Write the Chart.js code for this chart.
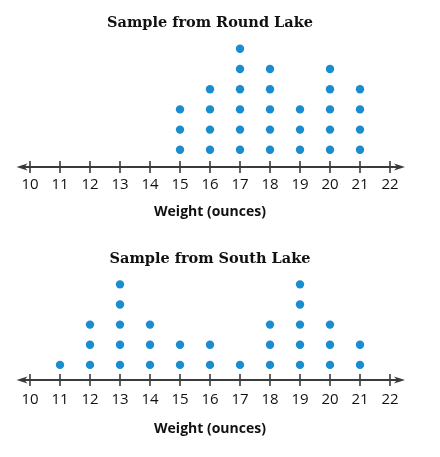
<!DOCTYPE html>
<html>
<head>
<meta charset="utf-8">
<script src="https://cdn.jsdelivr.net/npm/chart.js@4.4.0/dist/chart.umd.min.js"></script>
<style>
  html, body { margin: 0; padding: 0; background: #fff; }
  .box { position: relative; width: 440px; }
  #b1 { height: 230px; }
  #b2 { height: 227px; }
</style>
</head>
<body>
<div class="box" id="b1"><canvas id="c1"></canvas></div>
<div class="box" id="b2"><canvas id="c2"></canvas></div>
<script>
// ---- data ----
const tickValues = [10, 11, 12, 13, 14, 15, 16, 17, 18, 19, 20, 21, 22];
const roundTitle = "Sample from Round Lake";
const roundWeights = [15, 16, 17, 18, 19, 20, 21];
const roundCounts  = [3, 4, 6, 5, 3, 5, 4];
const southTitle = "Sample from South Lake";
const southWeights = [11, 12, 13, 14, 15, 16, 17, 18, 19, 20, 21];
const southCounts  = [1, 3, 5, 3, 2, 2, 1, 3, 5, 3, 2];
const axisTitle = "Weight (ounces)";

function buildPoints(weights, counts) {
  const pts = [];
  weights.forEach((w, i) => {
    for (let k = 1; k <= counts[i]; k++) pts.push({ x: w, y: k });
  });
  return pts;
}

// number line with arrows and crossing ticks
const numberLine = {
  id: 'numberLine',
  afterDatasetsDraw(chart) {
    const xs = chart.scales.x;
    const ctx = chart.ctx;
    const y = chart.chartArea.bottom;
    const xl = xs.getPixelForValue(9.55);
    const xr = xs.getPixelForValue(22.5);
    ctx.save();
    ctx.strokeStyle = '#3a3a3a';
    ctx.fillStyle = '#3a3a3a';
    ctx.lineWidth = 2;
    ctx.beginPath();
    ctx.moveTo(xl + 4, y);
    ctx.lineTo(xr - 4, y);
    ctx.stroke();
    // arrows
    ctx.beginPath();
    ctx.moveTo(xl, y); ctx.lineTo(xl + 11, y - 3.5); ctx.lineTo(xl + 8, y); ctx.lineTo(xl + 11, y + 3.5); ctx.closePath();
    ctx.fill();
    ctx.beginPath();
    ctx.moveTo(xr, y); ctx.lineTo(xr - 11, y - 3.5); ctx.lineTo(xr - 8, y); ctx.lineTo(xr - 11, y + 3.5); ctx.closePath();
    ctx.fill();
    // ticks
    ctx.lineWidth = 1.6;
    tickValues.forEach(v => {
      const px = xs.getPixelForValue(v);
      ctx.beginPath();
      ctx.moveTo(px, y - 6);
      ctx.lineTo(px, y + 6);
      ctx.stroke();
    });
    ctx.restore();
  }
};

function makeChart(id, title, weights, counts, yMin, yMax, titlePad, tickPad, axTitlePad) {
  return new Chart(document.getElementById(id), {
    type: 'scatter',
    data: {
      datasets: [{
        data: buildPoints(weights, counts),
        pointRadius: 4.2,
        pointHoverRadius: 4.2,
        pointBackgroundColor: '#1a8cd0',
        pointBorderWidth: 0,
        showLine: false
      }]
    },
    options: {
      responsive: true,
      maintainAspectRatio: false,
      animation: false,
      events: [],
      layout: { padding: { left: 30, right: 50, top: 0, bottom: 0 } },
      plugins: {
        legend: { display: false },
        tooltip: { enabled: false },
        title: {
          display: true,
          text: title,
          color: '#111',
          font: { family: 'DejaVu Serif', weight: 'bold', size: 14.5 },
          padding: titlePad
        }
      },
      scales: {
        x: {
          type: 'linear',
          min: 10,
          max: 22,
          afterBuildTicks(scale) { scale.ticks = tickValues.map(v => ({ value: v })); },
          grid: { display: false, drawTicks: false },
          border: { display: false },
          ticks: {
            color: '#111',
            padding: tickPad,
            font: { family: 'Open Sans', size: 15 },
            maxRotation: 0,
            autoSkip: false
          },
          title: {
            display: true,
            text: axisTitle,
            color: '#111',
            font: { family: 'Open Sans', weight: 'bold', size: 14 },
            padding: axTitlePad
          }
        },
        y: {
          display: false,
          min: yMin,
          max: yMax
        }
      }
    },
    plugins: [numberLine]
  });
}

makeChart('c1', roundTitle, roundWeights, roundCounts, 0.15, 6.35,
  { top: 14.3, bottom: 10 }, 9, { top: 0.6, bottom: 9.6 });
makeChart('c2', southTitle, southWeights, southCounts, 0.25, 5.33,
  { top: 20.3, bottom: 10 }, 11, { top: 0.6, bottom: 19.6 });
</script>
</body>
</html>
